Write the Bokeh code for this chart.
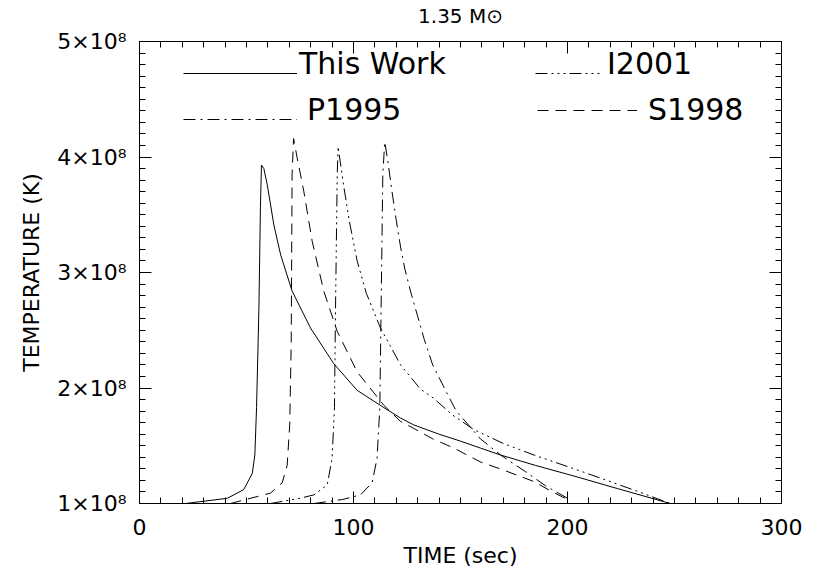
import numpy as np
from bokeh.plotting import figure
from bokeh.models import Range1d, LinearAxis, FixedTicker, Legend, LegendItem
from bokeh.embed import file_html
from bokeh.resources import INLINE

# ---------------- data ----------------
# time in seconds, temperature in units of 1e8 K
this_work_t = [21.5, 41, 48.7, 52.7, 53.9, 54.7, 55.8, 56.5, 57.0, 58.1, 59.7, 62.8, 66, 71.3,
               79.9, 90.8, 101.7, 114.2, 122, 128.2, 140, 150, 159.3, 168.7, 185, 204.5, 223.2, 248]
this_work_T = [1.0, 1.045, 1.12, 1.26, 1.42, 1.83, 2.69, 3.56, 3.93, 3.90, 3.76, 3.41, 3.15, 2.84,
               2.52, 2.21, 1.98, 1.83, 1.74, 1.68, 1.60, 1.54, 1.48, 1.42, 1.33, 1.23, 1.13, 1.0]

s1998_t = [42.5, 61.2, 66.7, 69, 70.2, 70.9, 71.3, 72, 73.7, 76.8, 80.7, 86.1, 92.4, 101.7,
           114.2, 122, 128.2, 137, 146.9, 153, 159.3, 170, 184.3, 192, 200.5]
s1998_T = [1.0, 1.09, 1.18, 1.33, 1.68, 2.40, 3.85, 4.16, 3.99, 3.70, 3.27, 2.84, 2.49, 2.14,
           1.85, 1.71, 1.65, 1.56, 1.48, 1.42, 1.36, 1.29, 1.19, 1.11, 1.03]

i2001_t = [61.2, 75, 81.5, 87.7, 90.0, 91.1, 91.6, 92.4, 92.8, 95, 98, 101.7, 106, 112.6, 122,
           131.3, 137.5, 146, 156.2, 170, 184.3, 200, 215.4, 232, 248]
i2001_T = [1.0, 1.045, 1.075, 1.16, 1.39, 1.83, 2.69, 3.85, 4.09, 3.80, 3.45, 3.10, 2.82, 2.52, 2.20,
           1.99, 1.91, 1.77, 1.64, 1.52, 1.42, 1.32, 1.22, 1.11, 1.0]

p1995_t = [81.5, 95, 103.3, 108.7, 111, 112.3, 112.9, 113.7, 114.6, 116, 118, 120, 122, 124, 126.6,
           130, 132.9, 137, 143, 148, 154.7, 159.3, 168.7, 180, 190, 201.5]
p1995_T = [1.0, 1.035, 1.075, 1.18, 1.39, 1.83, 2.69, 3.85, 4.13, 3.97, 3.70, 3.45, 3.22, 3.03, 2.84,
           2.62, 2.43, 2.20, 1.98, 1.80, 1.66, 1.56, 1.42, 1.28, 1.15, 1.03]

series_labels = ["This Work", "P1995", "I2001", "S1998"]

T_UNIT = 1e8
x_ticks = [0, 100, 200, 300]
y_ticks = [100000000, 200000000, 300000000, 400000000, 500000000]
y_tick_labels = ["1×10⁸", "2×10⁸", "3×10⁸", "4×10⁸", "5×10⁸"]
title_text = "1.35 M⊙"

FONT = "DejaVu Sans"

# ---------------- figure ----------------
p = figure(width=817, height=576,
           x_range=Range1d(0, 300), y_range=Range1d(1e8, 5e8),
           output_backend="svg", toolbar_location=None,
           min_border_left=139, min_border_right=36, min_border_top=40, min_border_bottom=73,
           x_axis_label="TIME (sec)", y_axis_label="TEMPERATURE (K)")
p.xgrid.visible = False
p.ygrid.visible = False
p.outline_line_color = "black"
p.background_fill_color = "white"
p.border_fill_color = "white"

xt = FixedTicker(ticks=x_ticks, minor_ticks=list(range(0, 301, 10)))
yt = FixedTicker(ticks=y_ticks, minor_ticks=[i * 10000000 for i in range(10, 51)])


def style_axis(ax):
    ax.axis_line_color = "black"
    ax.major_tick_line_color = "black"
    ax.minor_tick_line_color = "black"
    ax.major_tick_in = 12
    ax.major_tick_out = 0
    ax.minor_tick_in = 6
    ax.minor_tick_out = 0
    ax.major_label_text_font = FONT
    ax.major_label_text_font_size = "22px"
    ax.major_label_text_color = "black"
    ax.axis_label_text_font = FONT
    ax.axis_label_text_font_size = "22px"
    ax.axis_label_text_font_style = "normal"
    ax.axis_label_text_color = "black"


xa = p.xaxis[0]
xa.ticker = xt
style_axis(xa)
xa.major_label_standoff = 15
xa.axis_label_standoff = 5

ya = p.yaxis[0]
ya.ticker = yt
style_axis(ya)
ya.major_label_overrides = {v: s for v, s in zip(y_ticks, y_tick_labels)}
ya.major_label_standoff = 13
ya.axis_label_standoff = 10

# top axis carries the plot title as its axis label
top = LinearAxis(ticker=FixedTicker(ticks=x_ticks, minor_ticks=list(range(0, 301, 10))))
style_axis(top)
top.major_label_overrides = {v: "" for v in x_ticks}
top.major_label_text_font_size = "1px"
top.major_label_standoff = 0
top.axis_label = title_text
top.axis_label_text_font_size = "20px"
top.axis_label_standoff = 14
p.add_layout(top, "above")

right = LinearAxis(ticker=FixedTicker(ticks=y_ticks, minor_ticks=[i * 10000000 for i in range(10, 51)]))
style_axis(right)
right.major_label_overrides = {v: "" for v in y_ticks}
p.add_layout(right, "right")

# ---------------- curves ----------------
def tt(vals):
    return [v * T_UNIT for v in vals]

r_tw = p.line(this_work_t, tt(this_work_T), line_color="black", line_width=1)
r_s98 = p.line(s1998_t, tt(s1998_T), line_color="black", line_width=1, line_dash="11 7")
r_i01 = p.line(i2001_t, tt(i2001_T), line_color="black", line_width=1, line_dash="12 4 2 4 2 4 2 4")
r_p95 = p.line(p1995_t, tt(p1995_T), line_color="black", line_width=1, line_dash="12 5 2 5")

# ---------------- legend ----------------
# line samples (label-less entries of the curves themselves)
def add_sample(r, loc, gw):
    leg = Legend(items=[LegendItem(label="", renderers=[r])], location=loc,
                 glyph_width=gw, glyph_height=46, label_height=46, label_width=0,
                 label_standoff=0, padding=0, margin=0, spacing=0,
                 border_line_alpha=0, background_fill_alpha=0, label_text_font_size="1px")
    p.add_layout(leg)

# label texts, attached to an empty, invisible line so that they can sit on the samples' baseline
ghost = p.line(x=[], y=[], line_alpha=0)

def add_text(label, loc):
    leg = Legend(items=[LegendItem(label=label, renderers=[ghost])], location=loc,
                 glyph_width=1, glyph_height=46, label_height=46, label_standoff=0,
                 padding=0, margin=0, spacing=0,
                 border_line_alpha=0, background_fill_alpha=0,
                 label_text_font=FONT, label_text_font_size="30px",
                 label_text_color="black", label_text_baseline="middle")
    p.add_layout(leg)

add_sample(r_tw, (44, 407), 114)
add_sample(r_p95, (44, 361), 114)
add_sample(r_i01, (396, 407), 65)
add_sample(r_s98, (398, 370), 100)

add_text(series_labels[0], (159, 417))
add_text(series_labels[1], (167, 371))
add_text(series_labels[2], (467, 417))
add_text(series_labels[3], (508, 371))

open("out.html", "w").write(file_html(p, INLINE))
